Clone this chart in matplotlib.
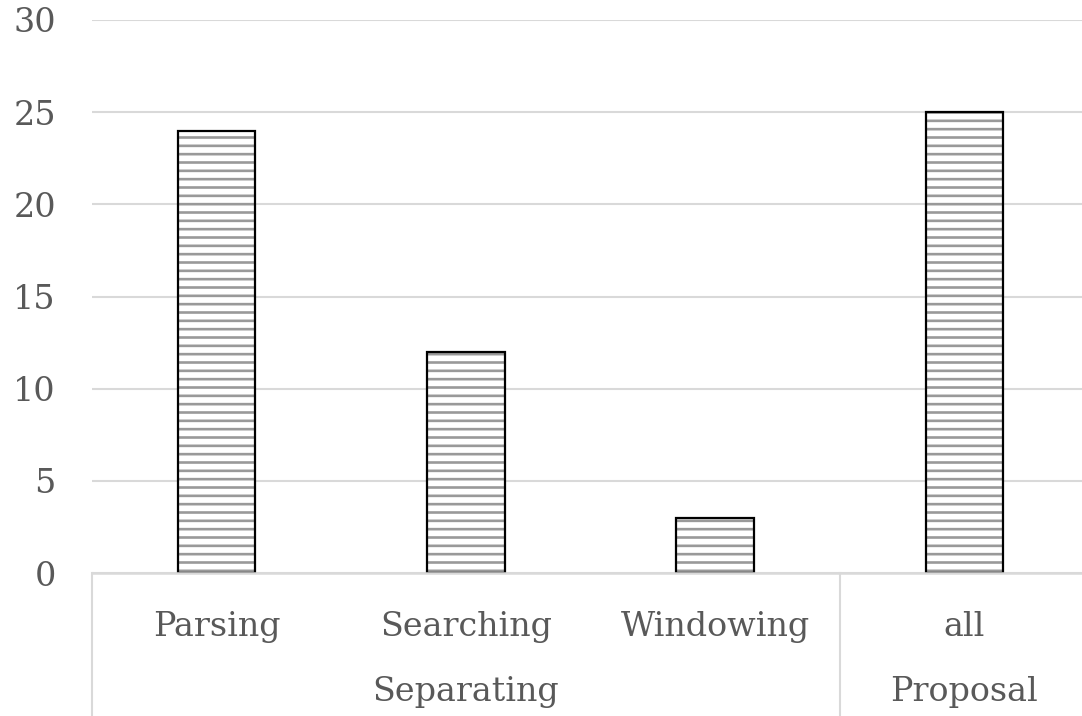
import matplotlib
matplotlib.use("Agg")
import matplotlib.pyplot as plt
from matplotlib.lines import Line2D
import matplotlib.transforms as mtransforms

# Data
categories = ["Parsing", "Searching", "Windowing", "all"]
values = [24, 12, 3, 25]
groups = ["Separating", "Proposal"]
group_sizes = [3, 1]
yticks = [0, 5, 10, 15, 20, 25, 30]

TEXT = "#595959"
GRID = "#d9d9d9"
HATCH = "#999999"
FONT = "DejaVu Serif"
FS = 24

plt.rcParams["hatch.linewidth"] = 1.9
plt.rcParams["font.family"] = FONT

fig = plt.figure(figsize=(10.82, 7.16), dpi=100)
W, H = 1082, 716
left, right, top, bottom = 92, 1089, 20, 573
ax = fig.add_axes([left / W, 1 - bottom / H, (right - left) / W, (bottom - top) / H])

x = list(range(len(categories)))
bw = 0.31
# hatched fill
ax.bar(x, values, width=bw, color="white", edgecolor=HATCH, linewidth=0,
       hatch="--", zorder=2)
# black outline
ax.bar(x, values, width=bw, fill=False, edgecolor="black", linewidth=1.6, zorder=3)

ax.set_xlim(-0.5, len(categories) - 0.5)
ax.set_ylim(0, 30)
ax.set_yticks(yticks)
ax.set_yticklabels([str(t) for t in yticks], fontsize=FS, color=TEXT)
ax.tick_params(axis="y", length=0, pad=26)
ax.set_xticks([])
ax.yaxis.grid(True, color=GRID, linewidth=1.5, zorder=0)
ax.set_axisbelow(True)
for s in ax.spines.values():
    s.set_visible(False)
ax.axhline(0, color=GRID, linewidth=1.8, zorder=4, clip_on=False)

trans = mtransforms.blended_transform_factory(ax.transData, ax.transAxes)
px = 1.0 / (bottom - top)  # one pixel in axes-fraction units (vertical)

# category labels
for xi, c in zip(x, categories):
    ax.text(xi, -54 * px, c, transform=trans, ha="center", va="center",
            fontsize=FS, color=TEXT)

# group labels and separators
start = -0.5
edges = [start]
for g, n in zip(groups, group_sizes):
    end = start + n
    ax.text((start + end) / 2, -119 * px, g, transform=trans, ha="center",
            va="center", fontsize=FS, color=TEXT)
    start = end
    edges.append(end)
for e in edges:
    ax.add_line(Line2D([e, e], [0, -(H - bottom + 5) * px], transform=trans,
                       color=GRID, linewidth=1.5, clip_on=False))

fig.savefig("out.png", dpi=100)
